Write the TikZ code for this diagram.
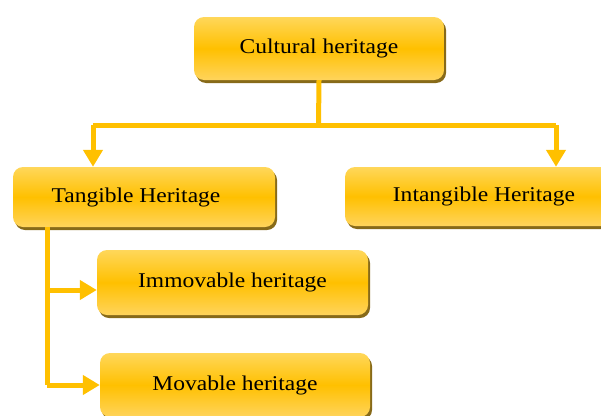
\documentclass[tikz,border=0pt]{standalone}
\usepackage{fontspec}
\setmainfont{Liberation Serif}[FakeStretch=1.12]
\usetikzlibrary{arrows.meta,shadows}

\definecolor{boxtop}{HTML}{FFD75A}
\definecolor{boxmid}{HTML}{FFC000}
\definecolor{boxlow}{HTML}{FFD45C}
\definecolor{shadowbrown}{HTML}{7A5A00}
\definecolor{linkgold}{HTML}{FFC000}

\tikzset{
  heritagebox/.style={
    rounded corners=10pt,
    top color=boxtop, bottom color=boxlow, middle color=boxmid,
    draw=none, inner sep=0pt,
    font=\fontsize{21}{24}\selectfont, text=black,
    drop shadow={shadow xshift=2pt, shadow yshift=-3pt, fill=shadowbrown, opacity=0.9}
  },
  link/.style={draw=linkgold, line width=5pt},
  linkarrow/.style={link, -{Triangle[width=19pt,length=17pt]}}
}

\begin{document}
\begin{tikzpicture}[x=1pt,y=-1pt]
  \useasboundingbox (0,0) rectangle (601,415);

  % boxes
  \node[heritagebox, minimum width=250pt, minimum height=63pt] (cult) at (319,48.5) {Cultural heritage};
  \node[heritagebox, minimum width=262pt, minimum height=60pt] (tang) at (144,197)
    {\hspace*{-16pt}Tangible Heritage};
  \node[heritagebox, minimum width=278pt, minimum height=59pt] (intang) at (484,196.5) {Intangible Heritage};
  \node[heritagebox, minimum width=271pt, minimum height=65pt] (immov) at (232.5,282.5) {Immovable heritage};
  \node[heritagebox, minimum width=270pt, minimum height=64pt] (mov) at (235,385) {Movable heritage};

  % branching points
  \coordinate (hub) at (318.5,125);
  \coordinate (lhub) at (93,125);
  \coordinate (rhub) at (556,125);
  \coordinate (trunk) at (47,385);
  \coordinate (imbranch) at (47,290);

  % connectors
  \draw[link] (cult.south) -- (hub);
  \draw[link] (lhub) -- (rhub);
  \draw[linkarrow] (lhub) -- (lhub |- tang.north);
  \draw[linkarrow] (rhub) -- (rhub |- intang.north);
  \draw[link] (trunk |- tang.south) -- (trunk);
  \draw[linkarrow] (imbranch) -- (imbranch -| immov.west);
  \draw[linkarrow] (trunk) -- (mov.west);
\end{tikzpicture}
\end{document}
